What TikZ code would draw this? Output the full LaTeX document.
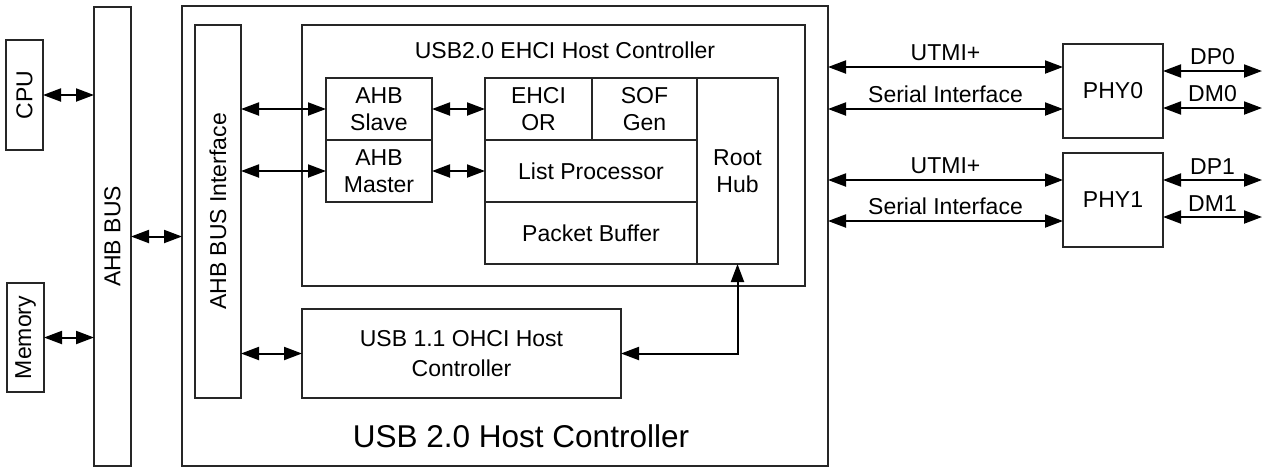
\documentclass[tikz,border=0pt]{standalone}
\usepackage{fontspec}
\setmainfont{Liberation Sans}
\usetikzlibrary{arrows.meta,calc}
\newcommand\mfs{\fontsize{23}{27}\selectfont}
\newcommand\bigfs{\fontsize{31.5}{36}\selectfont}
\begin{document}
\begin{tikzpicture}[x=1pt,y=-1pt,
  box/.style={draw=black!85, line width=1.4pt, inner sep=0pt, outer sep=0pt, align=center, font=\mfs},
  txt/.style={inner sep=0pt, align=center, font=\mfs},
  arr/.style={line width=2pt, {Triangle[length=18pt,width=13pt]}-{Triangle[length=18pt,width=13pt]}},
  lbl/.style={midway, above=5pt, inner sep=0pt, font=\mfs}]
\useasboundingbox (0,0) rectangle (1268,467);
% left side
\node[box, minimum width=37, minimum height=110] (cpu) at (24.5,95) {};
\node[txt, rotate=90] (cputxt) at (cpu) {CPU};
\node[box, minimum width=37, minimum height=109] (mem) at (25.5,337.5) {};
\node[txt, rotate=90] (memtxt) at (mem) {Memory};
\node[box, minimum width=37, minimum height=459] (bus) at (112.5,236.5) {};
\node[txt, rotate=90] (bustxt) at (bus) {AHB BUS};
% outer controller
\node[box, minimum width=646, minimum height=460] (outer) at (505,236) {};
\node[inner sep=0pt, font=\bigfs, anchor=base] (outertxt) at (521,447) {USB 2.0 Host Controller};
\node[box, minimum width=46, minimum height=373] (iface) at (218,211.5) {};
\node[txt, rotate=90] (ifacetxt) at (iface) {AHB BUS Interface};
% EHCI
\node[box, minimum width=503, minimum height=261] (ehci) at (553.5,155.5) {};
\node[txt, anchor=base] (ehcitxt) at (565,58) {USB2.0 EHCI Host Controller};
\node[box, minimum width=106, minimum height=62] (slave) at (379,109) {AHB\\Slave};
\node[box, minimum width=106, minimum height=62] (master) at (379,171) {AHB\\Master};
\node[box, minimum width=107, minimum height=62] (ehcior) at (538.5,109) {EHCI\\OR};
\node[box, minimum width=105, minimum height=62] (sof) at (644.5,109) {SOF\\Gen};
\node[box, minimum width=212, minimum height=62] (list) at (591,171) {List Processor};
\node[box, minimum width=212, minimum height=62] (pbuf) at (591,233) {Packet Buffer};
\node[box, minimum width=81, minimum height=186] (root) at (737.5,171) {Root\\Hub};
% OHCI
\node[box, minimum width=319, minimum height=89, font=\fontsize{23}{30}\selectfont] (ohci) at (461.5,353.5) {USB 1.1 OHCI Host\\Controller};
% PHYs
\node[box, minimum width=100, minimum height=94] (phy0) at (1113,91) {PHY0};
\node[box, minimum width=100, minimum height=94] (phy1) at (1113,200) {PHY1};
% connectors
\draw[arr] (cpu.east) -- (cpu.east -| bus.west);
\draw[arr] (mem.east) -- (mem.east -| bus.west);
\draw[arr] (bus.east) -- (bus.east -| outer.west);
\draw[arr] (slave.west -| iface.east) -- (slave.west);
\draw[arr] (master.west -| iface.east) -- (master.west);
\draw[arr] (ohci.west -| iface.east) -- (ohci.west);
\draw[arr] (slave.east) -- (ehcior.west);
\draw[arr] (master.east) -- (list.west);
\draw[arr] (ohci.east) -| (root.south);
% PHY side
\coordinate (u0) at ([yshift=24pt]phy0.west);
\coordinate (s0) at ([yshift=-18pt]phy0.west);
\coordinate (u1) at ([yshift=20pt]phy1.west);
\coordinate (s1) at ([yshift=-21pt]phy1.west);
\draw[arr] (u0 -| outer.east) -- node[lbl] {UTMI+} (u0);
\draw[arr] (s0 -| outer.east) -- node[lbl] {Serial Interface} (s0);
\draw[arr] (u1 -| outer.east) -- node[lbl] {UTMI+} (u1);
\draw[arr] (s1 -| outer.east) -- node[lbl] {Serial Interface} (s1);
\coordinate (dp0) at (1262,71);
\coordinate (dm0) at (1262,108);
\coordinate (dp1) at (1262,180);
\coordinate (dm1) at (1262,217);
\draw[arr] (dp0 -| phy0.east) -- node[lbl] {DP0} (dp0);
\draw[arr] (dm0 -| phy0.east) -- node[lbl] {DM0} (dm0);
\draw[arr] (dp1 -| phy1.east) -- node[lbl] {DP1} (dp1);
\draw[arr] (dm1 -| phy1.east) -- node[lbl] {DM1} (dm1);
\end{tikzpicture}
\end{document}
